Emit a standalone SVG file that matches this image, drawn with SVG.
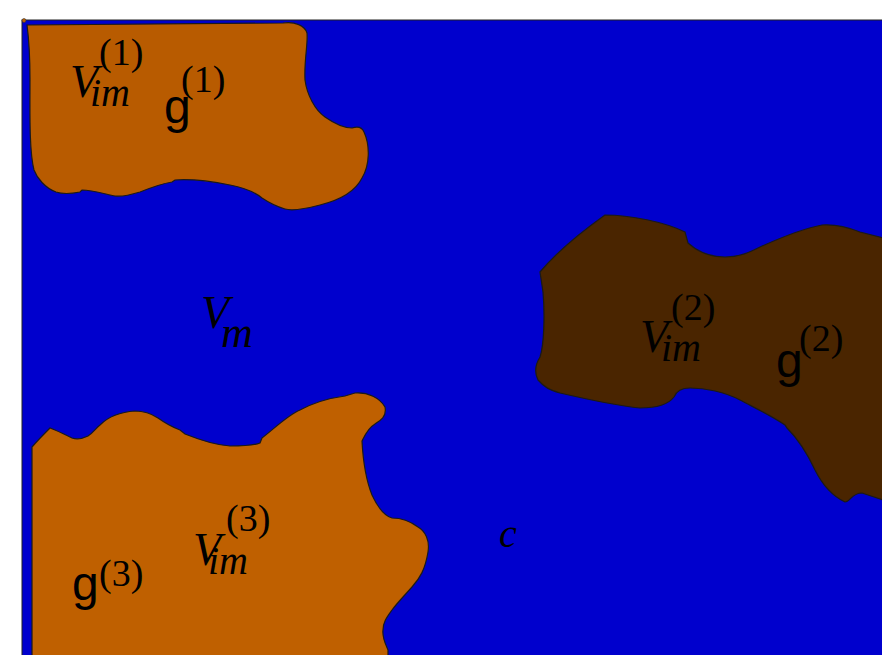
<svg xmlns="http://www.w3.org/2000/svg" width="882" height="655" viewBox="0 0 882 655">
<style>
.blob{stroke:#1a1a1a;stroke-width:1.2}
.or1{fill:#B85B00}
.or3{fill:#BF6000}
.br{fill:#4A2500}
.it{font-family:"Liberation Serif","Times New Roman",serif;font-style:italic;fill:#000}
.rm{font-family:"Liberation Serif","Times New Roman",serif;fill:#000;font-size:38px}
.sa{font-family:"Liberation Sans",Arial,sans-serif;fill:#000;font-size:48px}
.V{font-size:46px}
.sub{font-size:40px}
</style>
<rect width="882" height="655" fill="#fff"/>
<g id="matrix">
<rect x="22" y="20" width="870" height="645" fill="#0000CD" stroke="#222" stroke-width="1"/>
<circle cx="24" cy="20.5" r="2" fill="#BE5F00" stroke="#333" stroke-width="0.6"/>
<text class="it V" x="201" y="328">V</text>
<text class="it" x="221" y="347" font-size="44">m</text>
<text class="it" x="499" y="547" font-size="40">c</text>
</g>
<g id="inclusion1">
<path class="blob or1" d="M27,25 L283,23 C295,21 305,26 307,33 C308,45 304,60 305,80 C307,95 315,110 325,117 C335,124 345,128 352,128 C358,126 362,127 364,132 C370,145 370,165 362,178 C355,192 340,200 320,205 C305,209 292,211 285,209 C275,206 268,202 262,198 C255,192 245,188 230,185 C210,181 190,179 175,180 L172,182 C160,184 150,188 140,192 C130,195 122,197 115,196 C105,194 92,190 82,190 L80,192 C70,194 62,194 56,192 C45,188 37,178 34,170 C29,150 30,110 30,80 C30,60 29,40 27,25 Z"/>
<text class="it V" x="70" y="97">V</text>
<text class="it sub" x="90" y="106">im</text>
<text class="rm" x="99" y="65">(1)</text>
<text class="sa" x="164" y="123">g</text>
<text class="rm" x="181" y="92">(1)</text>
</g>
<g id="inclusion2">
<path class="blob br" d="M605,215 C630,215 665,222 685,232 L688,243 C698,252 710,257 725,257 C740,257 750,252 760,247 C780,238 805,228 822,225 C835,224 850,228 860,232 L883,238 L883,500 L862,493 C852,493 850,502 845,502 C830,495 820,480 815,470 C808,455 797,438 787,428 L785,425 C770,415 755,408 740,400 C725,392 705,388 690,388 C680,388 676,392 674,397 C668,405 655,408 640,408 C620,406 590,400 560,393 C550,390 545,388 538,380 C534,372 535,365 540,357 C544,345 545,315 543,292 L540,272 C550,260 570,240 605,215 Z"/>
<text class="it V" x="640" y="352">V</text>
<text class="it sub" x="661" y="361">im</text>
<text class="rm" x="671" y="320">(2)</text>
<text class="sa" x="776" y="377">g</text>
<text class="rm" x="799" y="351">(2)</text>
</g>
<g id="inclusion3">
<path class="blob or3" d="M32,656 L32,447 C38,440 45,433 50,428 L55,430 C62,433 68,436 72,438 C78,440 84,438 88,436 C93,433 96,428 100,425 C108,417 120,412 135,411 C145,411 152,414 158,418 C165,423 172,427 180,430 L185,434 C200,440 215,445 230,446 C245,446 255,445 260,443 L262,438 C275,428 288,415 300,410 C315,402 330,398 345,396 L355,393 C368,392 380,398 385,407 C387,417 380,421 375,424 C368,428 365,435 362,441 C363,460 366,480 372,495 C378,508 385,516 392,518 C400,518 410,521 418,527 C425,531 430,540 428,552 C425,570 420,578 412,587 C405,595 398,602 392,610 C387,617 383,622 383,630 C382,638 386,645 388,650 L388,656 Z"/>
<text class="it V" x="193" y="565">V</text>
<text class="it sub" x="208" y="574">im</text>
<text class="rm" x="226" y="531">(3)</text>
<text class="sa" x="72" y="600">g</text>
<text class="rm" x="99" y="586">(3)</text>
</g>
</svg>
